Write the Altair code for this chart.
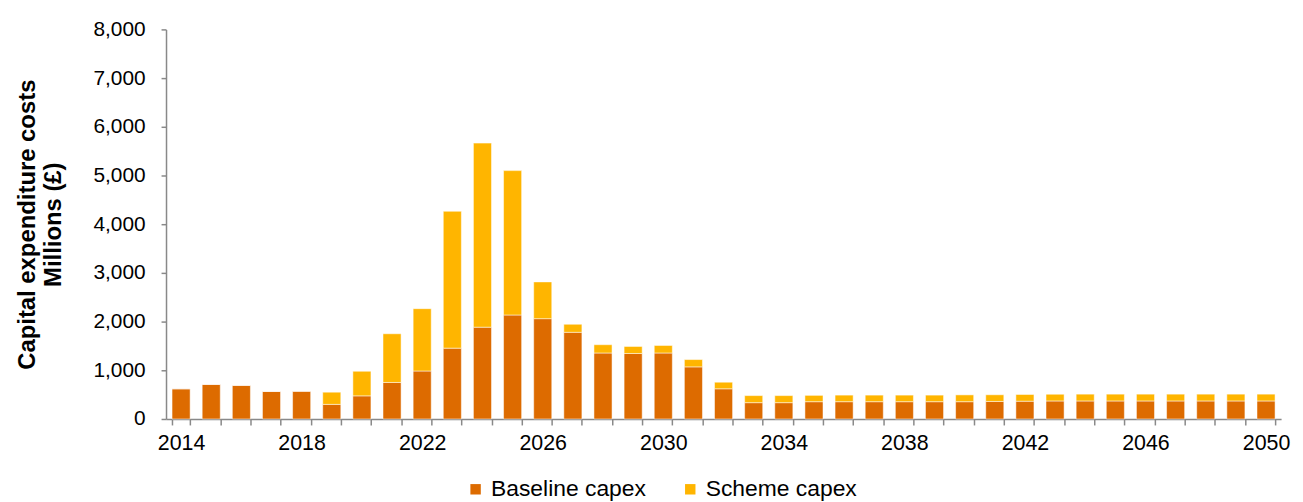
import altair as alt
import pandas as pd

years = list(range(2014, 2051))
baseline = [620, 710, 690, 565, 570, 300, 475, 750, 985, 1455, 1885, 2135, 2060,
            1780, 1355, 1345, 1355, 1070, 620, 335, 335, 355, 355, 355, 355, 355,
            355, 360, 365, 370, 370, 370, 370, 370, 370, 370, 370]
scheme = [0, 0, 0, 0, 0, 250, 505, 1000, 1280, 2810, 3780, 2965, 755,
          165, 170, 145, 155, 150, 135, 145, 145, 130, 135, 135, 135, 135,
          140, 137, 138, 138, 140, 140, 140, 140, 140, 140, 140]
series = ["Baseline capex", "Scheme capex"]
colors = ["#DD6B00", "#FFB500"]
y_ticks = list(range(0, 8001, 1000))

rows = []
for y, b, s in zip(years, baseline, scheme):
    rows.append({"year": y, "series": series[0], "value": b, "ord": 0})
    rows.append({"year": y, "series": series[1], "value": s, "ord": 1})
df = pd.DataFrame(rows)

font = "Liberation Sans"

chart = alt.Chart(df).mark_bar(stroke="white", strokeOpacity=0.5, strokeWidth=1).encode(
    x=alt.X("year:O",
            scale=alt.Scale(paddingInner=0.4, paddingOuter=0.2),
            axis=alt.Axis(title=None, labelAngle=0, values=years,
                          labelExpr="(datum.value - 2014) % 4 === 0 ? datum.label : ''",
                          tickBand="extent", tickSize=6, labelPadding=8,
                          labelOverlap=False,
                          domainColor="#898989", tickColor="#898989",
                          domainWidth=1.5, tickWidth=1.5,
                          labelFont=font, labelFontSize=21.5, labelColor="black")),
    y=alt.Y("value:Q", stack="zero",
            scale=alt.Scale(domain=[0, 8000], nice=False),
            axis=alt.Axis(title=["Capital expenditure costs", "Millions (£)"],
                          values=y_ticks, format=",.0f",
                          grid=False, tickSize=5, labelPadding=16,
                          domainColor="#898989", tickColor="#898989",
                          domainWidth=1.5, tickWidth=1.5,
                          labelFont=font, labelFontSize=21, labelColor="black",
                          titleFont=font, titleFontSize=24, titleFontWeight="bold",
                          titleLineHeight=26,
                          titleColor="black", titlePadding=28)),
    color=alt.Color("series:N",
                    scale=alt.Scale(domain=series, range=colors),
                    legend=alt.Legend(title=None, orient="none", direction="horizontal",
                                      legendX=300, legendY=451, padding=0,
                                      symbolType="square", symbolSize=110,
                                      symbolStrokeWidth=0, labelOffset=4,
                                      columnPadding=33,
                                      labelFont=font, labelFontSize=23,
                                      labelColor="black")),
    order=alt.Order("ord:Q"),
).properties(
    width=1122, height=392,
    autosize=alt.AutoSizeParams(type="none"),
    padding={"left": 159, "top": 20, "right": 14, "bottom": 82},
).configure_view(stroke=None)

chart.save("out.html", embed_options={"renderer": "svg", "actions": False})
